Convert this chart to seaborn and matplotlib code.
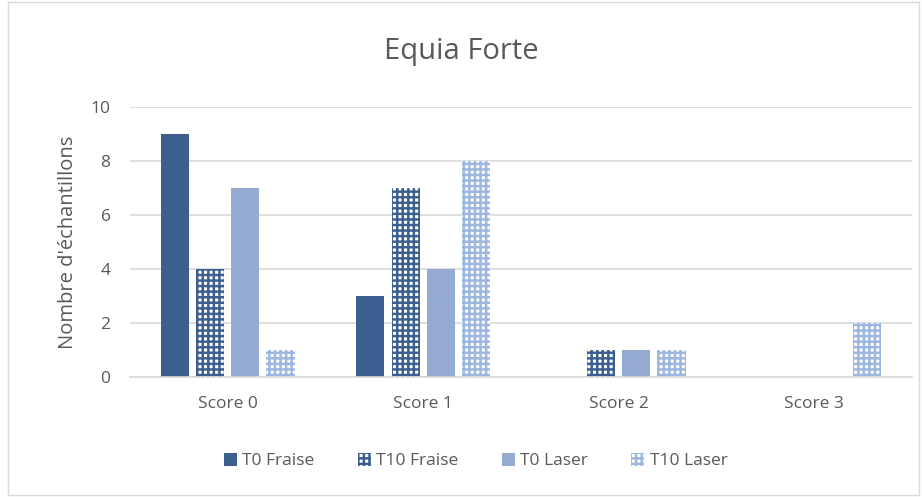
import numpy as np
import pandas as pd
import seaborn as sns
import matplotlib.pyplot as plt
from matplotlib.patches import Patch, Rectangle


SCORES = ["Score 0", "Score 1", "Score 2", "Score 3"]
SERIES = ["T0 Fraise", "T10 Fraise", "T0 Laser", "T10 Laser"]
T0_FRAISE = [9, 3, 0, 0]
T10_FRAISE = [4, 7, 1, 0]
T0_LASER = [7, 4, 1, 0]
T10_LASER = [1, 8, 1, 2]

DARK = "#3B5F8E"
LIGHT = "#95AAD1"
LIGHT_CHECK = "#9BB6DF"
TEXT = "#595959"


def build_frame():
    rows = []
    for name, values in zip(SERIES, [T0_FRAISE, T10_FRAISE, T0_LASER, T10_LASER]):
        for score, v in zip(SCORES, values):
            rows.append({"Score": score, "Série": name, "Valeur": v})
    return pd.DataFrame(rows)


def main():
    sns.set_theme(style="white")
    plt.rcParams["font.family"] = ["Open Sans", "DejaVu Sans"]
    plt.rcParams["hatch.linewidth"] = 1.75

    df = build_frame()
    fig = plt.figure(figsize=(9.22, 4.97), dpi=100)
    ax = fig.add_axes([0.141, 0.2414, 0.848, 0.5433])

    sns.barplot(data=df, x="Score", y="Valeur", hue="Série", hue_order=SERIES,
                order=SCORES, palette=[DARK, DARK, LIGHT, LIGHT_CHECK],
                width=0.72, gap=0.2, legend=False, ax=ax, errorbar=None)

    # style per series: solid or checker
    styles = {
        "T0 Fraise": dict(facecolor=DARK, edgecolor=DARK, hatch=None),
        "T10 Fraise": dict(facecolor="white", edgecolor=DARK, hatch="+++"),
        "T0 Laser": dict(facecolor=LIGHT, edgecolor=LIGHT, hatch=None),
        "T10 Laser": dict(facecolor="white", edgecolor=LIGHT_CHECK, hatch="+++"),
    }
    for name, container in zip(SERIES, ax.containers):
        st = styles[name]
        for bar in container:
            bar.set_facecolor(st["facecolor"])
            bar.set_edgecolor(st["edgecolor"])
            bar.set_hatch(st["hatch"])
            bar.set_linewidth(0)

    ax.set_ylim(0, 10)
    ax.set_yticks([0, 2, 4, 6, 8, 10])
    ax.set_xlim(-0.5, 3.5)
    ax.yaxis.grid(True, color="#D9D9D9", linewidth=1.2)
    ax.set_axisbelow(True)
    for side in ["top", "right", "left"]:
        ax.spines[side].set_visible(False)
    ax.spines["bottom"].set_color("#D9D9D9")
    ax.spines["bottom"].set_linewidth(1.2)
    ax.tick_params(axis="both", length=0, labelsize=12.5, colors=TEXT)
    ax.tick_params(axis="y", pad=14)
    ax.tick_params(axis="x", pad=14)
    ax.set_xlabel("")
    ax.set_ylabel("Nombre d'échantillons", fontsize=14.5, color=TEXT, labelpad=9)

    fig.text(0.5, 0.897, "Equia Forte", ha="center", va="center", fontsize=21, color=TEXT)

    handles = [Patch(facecolor=styles[n]["facecolor"], edgecolor=styles[n]["edgecolor"],
                     hatch=styles[n]["hatch"], linewidth=0, label=n) for n in SERIES]
    fig.legend(handles=handles, loc="center", bbox_to_anchor=(0.516, 0.072), ncol=4,
               frameon=False, fontsize=12.5, labelcolor=TEXT, handlelength=0.75,
               handleheight=0.75, handletextpad=0.3, columnspacing=2.5)

    fig.patches.append(Rectangle((0.009, 0.004), 0.988, 0.992, transform=fig.transFigure,
                                 fill=False, edgecolor="#D9D9D9", linewidth=1))

    fig.savefig("out.png", dpi=100)


if __name__ == "__main__":
    main()
